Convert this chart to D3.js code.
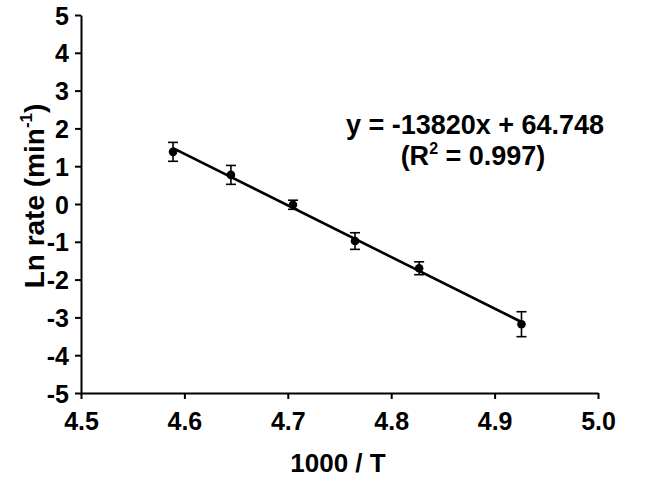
<!DOCTYPE html>
<html>
<head>
<meta charset="utf-8">
<script src="https://cdn.jsdelivr.net/npm/d3@7"></script>
<style>
  html, body { margin: 0; padding: 0; background: #fff; }
  svg { display: block; font-family: Arial, "Liberation Sans", sans-serif; }
</style>
</head>
<body>
<svg id="chart" width="665" height="481"></svg>
<script>
// ---- data ----
const invT = [4.589, 4.645, 4.705, 4.765, 4.827, 4.926];
const lnRate = [1.38, 0.77, -0.02, -0.98, -1.70, -3.18];
const errs = [0.25, 0.25, 0.12, 0.22, 0.17, 0.33];
const xTicks = [4.5, 4.6, 4.7, 4.8, 4.9, 5.0];
const yTicks = [-5, -4, -3, -2, -1, 0, 1, 2, 3, 4, 5];
const eqText = "y = -13820x + 64.748";
const r2Text = "0.997";

// ---- layout ----
const svg = d3.select("#chart");
const x = d3.scaleLinear().domain([4.5, 5.0]).range([81, 598]);
const y = d3.scaleLinear().domain([-5, 5]).range([393, 15]);

// axes
const xAxis = d3.axisBottom(x).tickValues(xTicks).tickFormat(d => d.toFixed(1)).tickSize(6).tickSizeOuter(0);
const yAxis = d3.axisLeft(y).tickValues(yTicks).tickFormat(d => String(d)).tickSize(6).tickSizeOuter(0);

const gx = svg.append("g").attr("transform", "translate(0,393)").call(xAxis);
const gy = svg.append("g").attr("transform", "translate(81,0)").call(yAxis);

[gx, gy].forEach(g => {
  g.attr("font-family", null).attr("font-size", null);
  g.select(".domain").attr("stroke", "#000").attr("stroke-width", 2);
  g.selectAll(".tick line").attr("stroke", "#000").attr("stroke-width", 2);
  g.selectAll(".tick text")
    .attr("fill", "#000")
    .style("font-family", "Arial, 'Liberation Sans', sans-serif")
    .style("font-weight", "bold")
    .style("font-size", "25px");
});
gx.selectAll(".tick text").attr("dy", "0").attr("y", 37);
gy.selectAll(".tick text").attr("x", -12).attr("dy", "0.36em");

// regression line (least squares fit of the data)
const mx = d3.mean(invT), my = d3.mean(lnRate);
let sxy = 0, sxx = 0;
invT.forEach((v, i) => { sxy += (v - mx) * (lnRate[i] - my); sxx += (v - mx) * (v - mx); });
const slope = sxy / sxx, icpt = my - slope * mx;
const xs = d3.extent(invT);
svg.append("line")
  .attr("x1", x(xs[0])).attr("y1", y(slope * xs[0] + icpt))
  .attr("x2", x(xs[1])).attr("y2", y(slope * xs[1] + icpt))
  .attr("stroke", "#000").attr("stroke-width", 2.6);

// error bars
const data = invT.map((v, i) => ({ x: v, y: lnRate[i], e: errs[i] }));
const eb = svg.append("g").attr("stroke", "#000").attr("stroke-width", 1.6);
data.forEach(d => {
  eb.append("line").attr("x1", x(d.x)).attr("x2", x(d.x)).attr("y1", y(d.y + d.e)).attr("y2", y(d.y - d.e));
  eb.append("line").attr("x1", x(d.x) - 5).attr("x2", x(d.x) + 5).attr("y1", y(d.y + d.e)).attr("y2", y(d.y + d.e));
  eb.append("line").attr("x1", x(d.x) - 5).attr("x2", x(d.x) + 5).attr("y1", y(d.y - d.e)).attr("y2", y(d.y - d.e));
});

// points
svg.append("g").selectAll("circle").data(data).join("circle")
  .attr("cx", d => x(d.x)).attr("cy", d => y(d.y)).attr("r", 4.3).attr("fill", "#000");

// equation text
svg.append("text").attr("x", 475).attr("y", 134).attr("text-anchor", "middle")
  .style("font-weight", "bold").style("font-size", "27px").attr("fill", "#000")
  .text(eqText);
const r2 = svg.append("text").attr("x", 473).attr("y", 165).attr("text-anchor", "middle")
  .style("font-weight", "bold").style("font-size", "27px").attr("fill", "#000");
r2.append("tspan").text("(R");
r2.append("tspan").attr("dy", -11).style("font-size", "16px").text("2");
r2.append("tspan").attr("dy", 11).text(" = " + r2Text + ")");

// axis titles
svg.append("text").attr("x", 338).attr("y", 472).attr("text-anchor", "middle")
  .style("font-weight", "bold").style("font-size", "26px").attr("fill", "#000")
  .text("1000 / T");
const yt = svg.append("text").attr("transform", "translate(44,196) rotate(-90)")
  .attr("text-anchor", "middle")
  .style("font-weight", "bold").style("font-size", "28px").attr("fill", "#000");
yt.append("tspan").text("Ln rate (min");
yt.append("tspan").attr("dy", -12).style("font-size", "17px").text("-1");
yt.append("tspan").attr("dy", 12).text(")");
</script>
</body>
</html>
